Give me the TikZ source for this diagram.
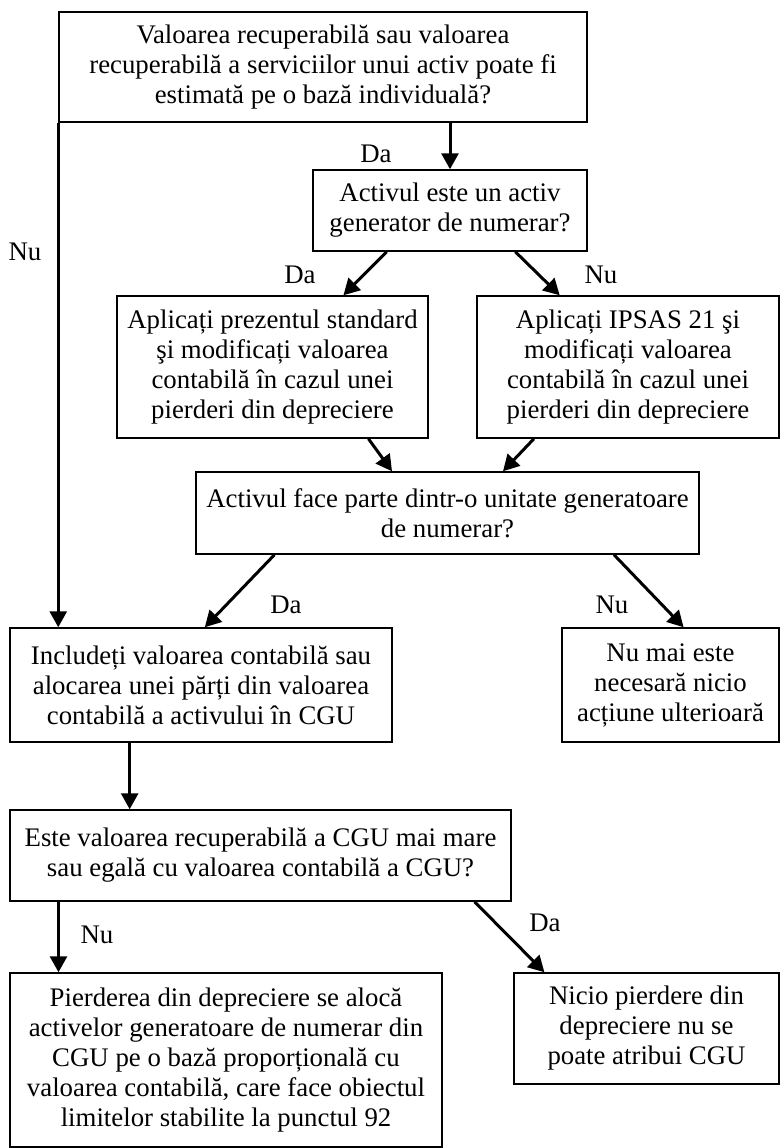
\documentclass[tikz,border=0pt]{standalone}
\usepackage{fontspec}
\setmainfont{Liberation Serif}
\usepackage{tikz}
\usetikzlibrary{calc,arrows.meta}
\newcommand{\lw}{0.75pt}

\tikzset{
  box/.style={draw=black,line width=\lw,align=center,inner sep=0pt,
    font=\fontsize{13.4}{15}\selectfont},
  lbl/.style={inner sep=0pt,font=\fontsize{13.4}{15}\selectfont},
  arr/.style={line width=1.5pt,-{Triangle[length=8pt,width=8.5pt]}}
}

\begin{document}
\begin{tikzpicture}[x=0.5pt,y=-0.5pt]
                    \useasboundingbox (0,0) rectangle (780,1148);
                    \node[box,minimum width=264pt,minimum height=55pt] (q1) at (323,67)
                      {Valoarea recuperabilă sau valoarea\\recuperabilă a serviciilor unui activ poate fi\\estimată pe o bază individuală?};
                    \node[box,minimum width=137pt,minimum height=40.5pt] (q2) at (450,210.5)
                      {Activul este un activ\\generator de numerar?};
                    \node[box,minimum width=155.5pt,minimum height=71pt] (std) at (272.5,367)
                      {Aplicați prezentul standard\\şi modificați valoarea\\contabilă în cazul unei\\pierderi din depreciere};
                    \node[box,minimum width=151pt,minimum height=71pt] (ipsas) at (628,367)
                      {Aplicați IPSAS 21 şi\\modificați valoarea\\contabilă în cazul unei\\pierderi din depreciere};
                    \node[box,minimum width=251.5pt,minimum height=41pt] (q3) at (447.5,513)
                      {Activul face parte dintr-o unitate generatoare\\de numerar?};
                    \node[box,minimum width=191pt,minimum height=57pt] (incl) at (201,685)
                      {Includeți valoarea contabilă sau\\alocarea unei părți din valoarea\\contabilă a activului în CGU};
                    \node[box,minimum width=108.5pt,minimum height=57pt] (none) at (670.5,685)
                      {Nu mai este\\necesară nicio\\acțiune ulterioară};
                    \node[box,minimum width=250.5pt,minimum height=45.5pt] (q4) at (260.5,855.5)
                      {Este valoarea recuperabilă a CGU mai mare\\sau egală cu valoarea contabilă a CGU?};
                    \node[box,minimum width=216pt,minimum height=87pt] (alloc) at (226,1060)
                      {Pierderea din depreciere se alocă\\activelor generatoare de numerar din\\CGU pe o bază proporțională cu\\valoarea contabilă, care face obiectul\\limitelor stabilite la punctul 92};
                    \node[box,minimum width=132.5pt,minimum height=55.5pt] (nodiff) at (646.5,1028.5)
                      {Nicio pierdere din\\depreciere nu se\\poate atribui CGU};
                    % capete de sageti pe laturi
                    \coordinate (q2a) at ($(q2.south west)!0.27!(q2.south east)$);
                    \coordinate (q2b) at ($(q2.south west)!0.737!(q2.south east)$);
                    \coordinate (stda) at ($(std.north west)!0.727!(std.north east)$);
                    \coordinate (stdb) at ($(std.south west)!0.807!(std.south east)$);
                    \coordinate (ipsasa) at ($(ipsas.north west)!0.275!(ipsas.north east)$);
                    \coordinate (ipsasb) at ($(ipsas.south west)!0.19!(ipsas.south east)$);
                    \coordinate (q3a) at ($(q3.north west)!0.39!(q3.north east)$);
                    \coordinate (q3b) at ($(q3.north west)!0.61!(q3.north east)$);
                    \coordinate (q3c) at ($(q3.south west)!0.157!(q3.south east)$);
                    \coordinate (q3d) at ($(q3.south west)!0.83!(q3.south east)$);
                    \coordinate (incla) at ($(incl.north west)!0.51!(incl.north east)$);
                    \coordinate (inclb) at ($(incl.south west)!0.314!(incl.south east)$);
                    \coordinate (nonea) at ($(none.north west)!0.56!(none.north east)$);
                    \coordinate (q4a) at ($(q4.south west)!0.098!(q4.south east)$);
                    \coordinate (q4b) at ($(q4.south west)!0.926!(q4.south east)$);
                    \coordinate (nodiffa) at ($(nodiff.north west)!0.117!(nodiff.north east)$);
                    \draw[arr] (q1.south -| q2.north) -- (q2.north);
                    \draw[arr] (q1.south west) -- (q1.south west |- incl.north);
                    \draw[arr] (q2a) -- (stda);
                    \draw[arr] (q2b) -- (ipsasa);
                    \draw[arr] (stdb) -- (q3a);
                    \draw[arr] (ipsasb) -- (q3b);
                    \draw[arr] (q3c) -- (incla);
                    \draw[arr] (q3d) -- (nonea);
                    \draw[arr] (inclb) -- (inclb |- q4.north);
                    \draw[arr] (q4a) -- (q4a |- alloc.north);
                    \draw[arr] (q4b) -- (nodiffa);
                    % etichete
                    \node[lbl] (da1) at (376,154) {Da};
                    \node[lbl] (nu1) at (25,252) {Nu};
                    \node[lbl] (da2) at (300,275) {Da};
                    \node[lbl] (nu2) at (601,275) {Nu};
                    \node[lbl] (da3) at (286,605) {Da};
                    \node[lbl] (nu3) at (612,605) {Nu};
                    \node[lbl] (nu4) at (97,935) {Nu};
                    \node[lbl] (da4) at (545,923) {Da};
                    \end{tikzpicture}
\end{document}
